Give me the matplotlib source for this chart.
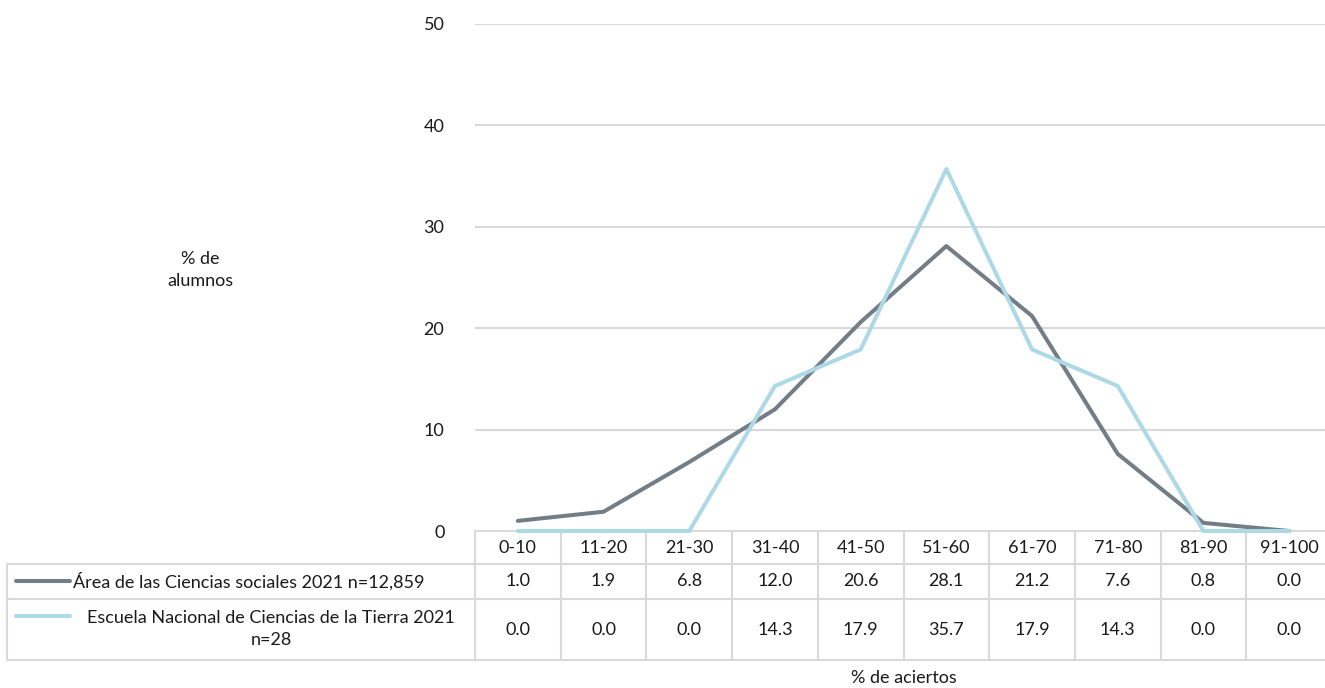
import matplotlib
matplotlib.use("Agg")
import matplotlib.pyplot as plt
from matplotlib.transforms import blended_transform_factory
from matplotlib.lines import Line2D

categories = ["0-10", "11-20", "21-30", "31-40", "41-50", "51-60", "61-70", "71-80", "81-90", "91-100"]
area_vals = [1.0, 1.9, 6.8, 12.0, 20.6, 28.1, 21.2, 7.6, 0.8, 0.0]
escuela_vals = [0.0, 0.0, 0.0, 14.3, 17.9, 35.7, 17.9, 14.3, 0.0, 0.0]
series_names = ["Área de las Ciencias sociales 2021 n=12,859",
                "Escuela Nacional de Ciencias de la Tierra 2021\nn=28"]
yticks = [0, 10, 20, 30, 40, 50]

GRAY = "#737D86"
BLUE = "#ADD8E6"
GRID = "#D9D9D9"
TXT = "#1a1a1a"

plt.rcParams['font.family'] = ['Lato', 'DejaVu Sans']
FS = 13

W, H = 1325, 688
fig = plt.figure(figsize=(W/100, H/100), dpi=100)
left, right, top, bottom = 475, 1332, 24, 531
ax = fig.add_axes([left/W, 1-bottom/H, (right-left)/W, (bottom-top)/H])
x = list(range(len(categories)))
ax.plot(x, area_vals, color=GRAY, lw=2.9, solid_joinstyle='round', solid_capstyle='round', zorder=3, clip_on=False)
ax.plot(x, escuela_vals, color=BLUE, lw=2.9, solid_joinstyle='round', solid_capstyle='round', zorder=4, clip_on=False)
ax.set_xlim(-0.5, len(categories)-0.5)
ax.set_ylim(0, 50)
ax.set_yticks(yticks)
ax.set_yticklabels([str(v) for v in yticks], fontsize=FS, color=TXT)
ax.tick_params(axis='y', length=0, pad=22)
ax.set_xticks([])
for s in ax.spines.values():
    s.set_visible(False)
ax.yaxis.grid(True, color=GRID, lw=1.5)
ax.set_axisbelow(True)

def fy(py):
    return 1 - py/H
def fx(px):
    return px/W

tr = blended_transform_factory(ax.transData, fig.transFigure)
trf = fig.transFigure

# table lines
y_head_top, y_r1_top, y_r2_top, y_bot = 531, 564, 599, 660
xl = -0.5
xr = len(categories) - 0.5
for yy in [y_head_top]:
    fig.add_artist(Line2D([xl, xr], [fy(yy), fy(yy)], transform=tr, color=GRID, lw=1.5, clip_on=False, zorder=0))
for yy in [y_r1_top, y_r2_top, y_bot]:
    fig.add_artist(Line2D([fx(7), fx(left)], [fy(yy), fy(yy)], transform=trf, color=GRID, lw=1.5))
    fig.add_artist(Line2D([xl, xr], [fy(yy), fy(yy)], transform=tr, color=GRID, lw=1.5, clip_on=False))
fig.add_artist(Line2D([fx(7), fx(7)], [fy(y_r1_top), fy(y_bot)], transform=trf, color=GRID, lw=1.5))
for i in range(len(categories) + 1):
    xv = i - 0.5
    fig.add_artist(Line2D([xv, xv], [fy(y_head_top), fy(y_bot)], transform=tr, color=GRID, lw=1.5, clip_on=False, zorder=0))

# header and values
for i, c in enumerate(categories):
    fig.text(i, fy(548), c, transform=tr, ha='center', va='center', fontsize=FS, color=TXT)
    fig.text(i, fy(581), f"{area_vals[i]:.1f}", transform=tr, ha='center', va='center', fontsize=FS, color=TXT)
    fig.text(i, fy(630), f"{escuela_vals[i]:.1f}", transform=tr, ha='center', va='center', fontsize=FS, color=TXT)

# row labels with legend keys
fig.add_artist(Line2D([fx(16), fx(70)], [fy(581), fy(581)], transform=trf, color=GRAY, lw=2.9, solid_capstyle='round'))
fig.text(fx(73), fy(581), series_names[0], ha='left', va='center', fontsize=FS, color=TXT)
fig.add_artist(Line2D([fx(16), fx(70)], [fy(616), fy(616)], transform=trf, color=BLUE, lw=2.9, solid_capstyle='round'))
fig.text(fx(271), fy(629), series_names[1], ha='center', va='center', fontsize=FS, color=TXT,
         multialignment='center', linespacing=1.45)

# axis titles
fig.text(fx(200), fy(270), "% de\nalumnos", ha='center', va='center', fontsize=FS, color=TXT,
         multialignment='center', linespacing=1.45)
fig.text(0.5 * (fx(left) + fx(right)), fy(678), "% de aciertos", ha='center', va='center', fontsize=FS, color=TXT)

fig.savefig("out.png", dpi=100, facecolor='white')
